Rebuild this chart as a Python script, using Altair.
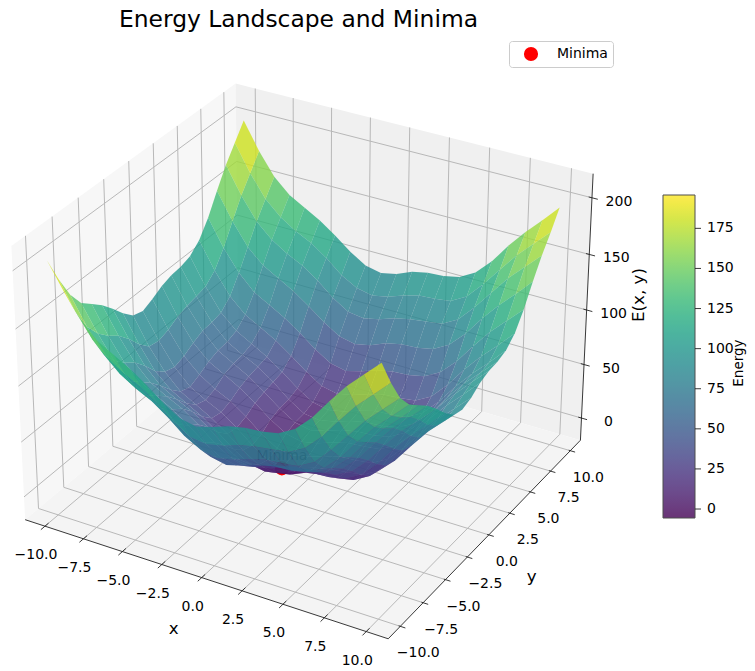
import numpy as np
import altair as alt

X_TICKS = [-10, -7.5, -5, -2.5, 0, 2.5, 5, 7.5, 10]
Y_TICKS = [-10, -7.5, -5, -2.5, 0, 2.5, 5, 7.5, 10]
Z_TICKS = [0, 50, 100, 150, 200]
X_LABELS = ["−10.0", "−7.5", "−5.0", "−2.5", "0.0", "2.5", "5.0", "7.5", "10.0"]
Y_LABELS = X_LABELS
Z_LABELS = ["0", "50", "100", "150", "200"]
CB_VALUES = [0, 25, 50, 75, 100, 125, 150, 175]
MINIMA = [-1.1, -1.0, -8.0]
GRID = list(range(-10, 11))
# Estimated energy on a coarse grid (rows y = -10..10, columns x = -10..10): the rims were
# read off the picture, the inner cells are a smooth estimate consistent with those rims.
ENERGY = [
 [205,182,162,148,140,132,122,111,102,99,103,108,111,112,115,123,137,155,172,186,200],
 [182,158,138,125,116,109,99,87,78,76,79,84,87,89,91,99,113,131,148,162,176],
 [162,138,118,105,96,89,79,67,59,56,59,64,68,69,71,79,94,111,128,142,156],
 [148,125,105,91,83,75,65,54,45,42,46,51,54,55,58,66,80,98,115,129,143],
 [140,116,96,83,75,67,57,46,37,34,37,43,46,47,50,58,72,90,106,120,135],
 [132,109,89,75,67,60,50,38,29,27,30,35,38,40,42,50,64,82,99,113,127],
 [122,99,79,65,57,50,40,28,19,17,20,25,28,30,32,40,54,72,89,103,117],
 [111,87,67,54,46,38,28,17,8,5,8,14,17,18,21,29,43,61,77,91,106],
 [102,78,59,45,37,29,19,8,-1,-4,-1,5,8,9,12,20,34,52,68,83,97],
 [99,76,56,42,34,27,17,5,-4,-6,-3,2,5,7,9,17,31,49,66,80,94],
 [103,79,59,46,37,30,20,8,-1,-3,0,5,9,10,12,20,35,52,69,83,97],
 [108,84,64,51,43,35,25,14,5,2,5,10,14,15,17,25,40,58,74,88,103],
 [111,87,68,54,46,38,28,17,8,5,9,14,17,18,21,29,43,61,77,92,106],
 [112,89,69,55,47,40,30,18,9,7,10,15,18,19,22,30,44,62,79,93,107],
 [115,91,71,58,50,42,32,21,12,9,12,17,21,22,24,32,47,65,81,95,110],
 [123,99,79,66,58,50,40,29,20,17,20,25,29,30,32,40,55,73,89,103,118],
 [137,113,94,80,72,64,54,43,34,31,35,40,43,44,47,55,69,87,104,118,132],
 [155,131,111,98,90,82,72,61,52,49,52,58,61,62,65,73,87,105,121,135,150],
 [172,148,128,115,106,99,89,77,68,66,69,74,77,79,81,89,104,121,138,152,166],
 [186,162,142,129,120,113,103,91,83,80,83,88,92,93,95,103,118,135,152,166,180],
 [200,176,156,143,135,127,117,106,97,94,97,103,106,107,110,118,132,150,166,180,195],
]

XL = (-11.3, 11.3); YL = (-11.3, 11.3); ZL = (-21.0, 221.0)
BOX = np.array([1.24, 1.24, 0.93])
OX, OY = 8, 36
FONT = "DejaVu Sans"

el, az = np.radians(30), np.radians(-60)
R = BOX / 2
w = np.array([np.cos(el) * np.cos(az), np.cos(el) * np.sin(az), np.sin(el)])
eye = R + 10 * w
u = np.cross([0, 0, 1], w); u = u / np.linalg.norm(u)
v = np.cross(w, u)

def cam(x, y, z):
    p = np.array([(x - XL[0]) / (XL[1] - XL[0]), (y - YL[0]) / (YL[1] - YL[0]), (z - ZL[0]) / (ZL[1] - ZL[0])]) * BOX
    d = p - eye
    depth = -d @ w
    return d @ u / depth, d @ v / depth, depth

# calibrate the view to the box corners seen in the reference
ANCHORS = [((XL[0], YL[0], ZL[0]), (24, 520)), ((XL[1], YL[0], ZL[0]), (388, 638)),
           ((XL[1], YL[1], ZL[0]), (581, 441)), ((XL[0], YL[0], ZL[1]), (13, 246)),
           ((XL[1], YL[1], ZL[1]), (593, 174)), ((XL[0], YL[1], ZL[1]), (235, 83))]
cu = np.array([cam(*a[0])[:2] for a in ANCHORS])
sx, cx = np.linalg.lstsq(np.c_[cu[:, 0], np.ones(6)], np.array([a[1][0] for a in ANCHORS], float), rcond=None)[0]
sy, cy = np.linalg.lstsq(np.c_[cu[:, 1], np.ones(6)], np.array([a[1][1] for a in ANCHORS], float), rcond=None)[0]

def pt(x, y, z):
    a, b, _ = cam(x, y, z)
    return [float(sx * a + cx - OX), float(sy * b + cy - OY)]

def line(*pts):
    return {"type": "Feature", "properties": {}, "geometry": {"type": "LineString", "coordinates": pts}}

def poly(pts, **props):
    return {"type": "Feature", "properties": props, "geometry": {"type": "Polygon", "coordinates": [pts + [pts[0]]]}}

PROJ = dict(type="identity", scale=1, translate=[0, 0])
x0, x1 = XL; y0, y1 = YL; z0, z1 = ZL

def fills(features, color):
    return alt.Chart(alt.Data(values=features)).mark_geoshape(filled=True, fill=color, strokeWidth=0).project(**PROJ)

def strokes(features, color, width):
    return alt.Chart(alt.Data(values=features)).mark_geoshape(filled=False, stroke=color, strokeWidth=width).project(**PROJ)

def texts(rows, **kw):
    return alt.Chart(alt.Data(values=rows)).mark_text(font=FONT, color="black", **kw).encode(
        longitude="lon:Q", latitude="lat:Q", text="t:N").project(**PROJ)

pane_x = fills([poly([pt(x0, y0, z0), pt(x0, y1, z0), pt(x0, y1, z1), pt(x0, y0, z1)])], "#f7f7f7")
pane_y = fills([poly([pt(x0, y1, z0), pt(x1, y1, z0), pt(x1, y1, z1), pt(x0, y1, z1)])], "#f0f0f0")
pane_z = fills([poly([pt(x0, y0, z0), pt(x1, y0, z0), pt(x1, y1, z0), pt(x0, y1, z0)])], "#f4f4f4")

grid = []
for t in X_TICKS:
    grid.append(line(pt(t, y0, z0), pt(t, y1, z0), pt(t, y1, z1)))
for t in Y_TICKS:
    grid.append(line(pt(x1, t, z0), pt(x0, t, z0), pt(x0, t, z1)))
for t in Z_TICKS:
    grid.append(line(pt(x0, y0, t), pt(x0, y1, t), pt(x1, y1, t)))
grid_layer = strokes(grid, "#b8b8b8", 1.0)

axes = [line(pt(x0, y0, z0), pt(x1, y0, z0)), line(pt(x1, y0, z0), pt(x1, y1, z0)), line(pt(x1, y1, z0), pt(x1, y1, z1))]
for t in X_TICKS:
    axes.append(line(pt(t, y0 - 0.4, z0), pt(t, y0 + 0.35, z0)))
for t in Y_TICKS:
    axes.append(line(pt(x1 + 0.3, t, z0), pt(x1 - 0.1, t, z0)))
for t in Z_TICKS:
    axes.append(line(pt(x1 + 0.35, y1, t), pt(x1 - 0.2, y1, t)))
axes_layer = strokes(axes, "#222222", 0.9)

def row(p, t):
    return {"lon": p[0], "lat": p[1], "t": t}

x_lab = texts([row(pt(a, y0, z0), b) for a, b in zip(X_TICKS, X_LABELS)], fontSize=14, dx=-9, dy=29)
y_lab = texts([row(pt(x1, a, z0), b) for a, b in zip(Y_TICKS, Y_LABELS)], fontSize=14, dx=18, dy=27)
z_lab = texts([row(pt(x1, y1, a), b) for a, b in zip(Z_TICKS, Z_LABELS)], fontSize=14, dx=27, dy=4)
x_title = texts([row(pt(0, y0, z0), "x")], fontSize=16.7, dx=-28, dy=51)
y_title = texts([row(pt(x1, 0, z0), "y")], fontSize=16.7, dx=43, dy=42)
# with angle=270 the offsets turn with the text: dy moves right, dx moves up
z_title = texts([row(pt(x1, y1, 100), "E(x, y)")], fontSize=16.7, dx=15, dy=52, angle=270)

# the surface, back to front
quads = []
for j in range(len(GRID) - 1):
    for i in range(len(GRID) - 1):
        xs = [GRID[i], GRID[i + 1], GRID[i + 1], GRID[i]]
        ys = [GRID[j], GRID[j], GRID[j + 1], GRID[j + 1]]
        zs = [ENERGY[b - GRID[0]][a - GRID[0]] for a, b in zip(xs, ys)]
        d = float(np.mean([cam(a, b, c)[2] for a, b, c in zip(xs, ys, zs)]))
        quads.append((d, poly([pt(a, b, c) for a, b, c in zip(xs, ys, zs)], E=float(np.mean(zs)))))
quads.sort(key=lambda q: -q[0])

CB_DOMAIN = [-5.6, 195.8]
CB_TOP, CB_BOTTOM, CB_LEFT, CB_RIGHT = 195, 518, 663, 695
surface = alt.Chart(alt.Data(values=[q[1] for q in quads])).mark_geoshape(filled=True, strokeWidth=0, opacity=0.8).encode(
    color=alt.Color("properties.E:Q",
        scale=alt.Scale(scheme="viridis", domain=CB_DOMAIN, clamp=True),
        legend=alt.Legend(type="gradient", orient="none", title=None, direction="vertical",
            legendX=CB_LEFT - OX, legendY=CB_TOP - OY, gradientLength=CB_BOTTOM - CB_TOP,
            gradientThickness=CB_RIGHT - CB_LEFT, values=CB_VALUES, gradientOpacity=0.8,
            gradientStrokeColor="#222222", gradientStrokeWidth=1, labelFont=FONT, labelFontSize=14,
            labelColor="black", labelOffset=12))
).project(**PROJ)

def cb_y(val):
    return CB_BOTTOM - (val - CB_DOMAIN[0]) / (CB_DOMAIN[1] - CB_DOMAIN[0]) * (CB_BOTTOM - CB_TOP) - OY

cb_ticks = strokes([line([CB_RIGHT - OX, cb_y(t)], [CB_RIGHT + 6 - OX, cb_y(t)]) for t in CB_VALUES], "#222222", 0.9)
cb_title = texts([row([CB_RIGHT + 44 - OX, cb_y(91)], "Energy")], fontSize=13.5, angle=270)

mp = pt(*MINIMA)
minima_pt = alt.Chart(alt.Data(values=[{"lon": mp[0], "lat": mp[1], "series": "Minima"}])).mark_point(
    filled=True, color="red", size=200, opacity=1).encode(
    longitude="lon:Q", latitude="lat:Q",
    shape=alt.Shape("series:N", scale=alt.Scale(domain=["Minima"], range=["circle"]),
        legend=alt.Legend(orient="none", title=None, legendX=509 - OX, legendY=41 - OY,
            fillColor="white", strokeColor="#cccccc", cornerRadius=3, padding=5, clipHeight=16,
            symbolSize=200, symbolOffset=9, symbolFillColor="red", symbolStrokeColor="red",
            labelFont=FONT, labelFontSize=14, labelColor="black", labelOffset=18))
).project(**PROJ)
minima_txt = texts([row(mp, "Minima")], fontSize=14, dy=-12)

chart = alt.layer(
    pane_x, pane_y, pane_z, grid_layer, axes_layer, x_lab, y_lab, z_lab, x_title, y_title, z_title,
    minima_pt, minima_txt, surface, cb_ticks, cb_title
).properties(
    width=739, height=635, padding={"left": 0, "top": 28, "right": 0, "bottom": 0},
    autosize=alt.AutoSizeParams(type="none"),
    title=alt.TitleParams("Energy Landscape and Minima", font=FONT, fontSize=23.4, fontWeight="normal",
                          color="black", dx=-79, offset=4)
).configure_view(stroke=None)

chart.save("out.html", embed_options={"renderer": "svg", "actions": False})
